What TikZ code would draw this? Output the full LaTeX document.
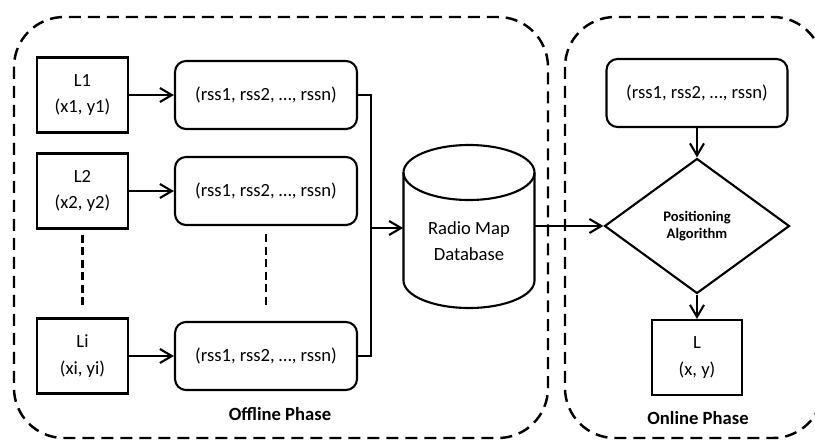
\documentclass[tikz,border=0pt]{standalone}
\usepackage{fontspec}
\setmainfont{Carlito}
\usetikzlibrary{positioning, shapes.geometric, arrows.meta}

\tikzset{
  phase/.style={line width=1.4pt, dash pattern=on 0.24cm off 0.14cm, rounded corners=1cm},
  locbox/.style={draw, line width=1.2pt, minimum width=1.82cm, minimum height=1.5cm, align=center, font=\fontsize{10.6}{15}\selectfont},
  rssbox/.style={draw, line width=1.2pt, rounded corners=0.22cm, minimum width=3.64cm, minimum height=1.36cm, font=\fontsize{10.6}{13}\selectfont},
  conn/.style={line width=1.2pt, -{Straight Barb[length=0.24cm, width=0.28cm]}},
  gap/.style={line width=1.5pt, dash pattern=on 0.16cm off 0.09cm},
}

\begin{document}
\begin{tikzpicture}[x=0.02cm, y=-0.02cm]
\useasboundingbox (0,0) rectangle (815,440);

% phases
\draw[phase] (14,17) rectangle (548,438);
\draw[phase] (565,17) rectangle (823,438);

% offline phase
\node[locbox] (l1) at (82.5,95) {L1\\(x1, y1)};
\node[locbox] (l2) at (82.5,191) {L2\\(x2, y2)};
\node[locbox] (li) at (82.5,356) {Li\\(xi, yi)};

\node[rssbox] (r1) at (266,95) {(rss1, rss2, \dots, rssn)};
\node[rssbox] (r2) at (266,191) {(rss1, rss2, \dots, rssn)};
\node[rssbox] (ri) at (266,356) {(rss1, rss2, \dots, rssn)};

\draw[conn] (l1) -- (r1);
\draw[conn] (l2) -- (r2);
\draw[conn] (li) -- (ri);

\draw[gap, shorten <=0.1cm, shorten >=0.18cm] (l2) -- (li);
\draw[gap, shorten <=0.16cm, shorten >=0.3cm] (r2) -- (ri);

% database drum
\draw[line width=1.2pt] (469,172.5) ellipse [x radius=65.5, y radius=27.5];
\draw[line width=1.2pt] (403.5,172.5) -- (403.5,280.5)
  arc [start angle=180, end angle=0, x radius=65.5, y radius=27.5] -- (534.5,172.5);
\node[minimum width=2.62cm, inner sep=0pt, align=center,
      font=\fontsize{10.6}{15}\selectfont] (db) at (469,241) {Radio Map\\Database};

\coordinate (jn) at (371,228);
\draw[line width=1.2pt] (r1.east) -| (jn) |- (ri.east);
\draw[conn] (jn) -- (jn -| db.west);

\node[font=\fontsize{10.6}{13}\selectfont\bfseries] (off) at (280,414) {Offline Phase};

% online phase
\node[rssbox, minimum width=3.62cm] (ro) at (697,93) {(rss1, rss2, \dots, rssn)};
\node[draw, line width=1.2pt, diamond, minimum width=3.7cm, minimum height=2.7cm, inner sep=0pt,
      align=center, font=\fontsize{8.3}{9.7}\selectfont\bfseries] (alg) at (697,226) {Positioning\\Algorithm};
\node[locbox, minimum width=1.8cm] (lo) at (697,357.5) {L\\(x, y)};

\draw[conn] (db.east |- alg) -- (alg);
\draw[conn] (ro) -- (alg);
\draw[conn] (alg) -- (lo);

\node[font=\fontsize{10.6}{13}\selectfont\bfseries] (on) at (698,418) {Online Phase};
\end{tikzpicture}
\end{document}
